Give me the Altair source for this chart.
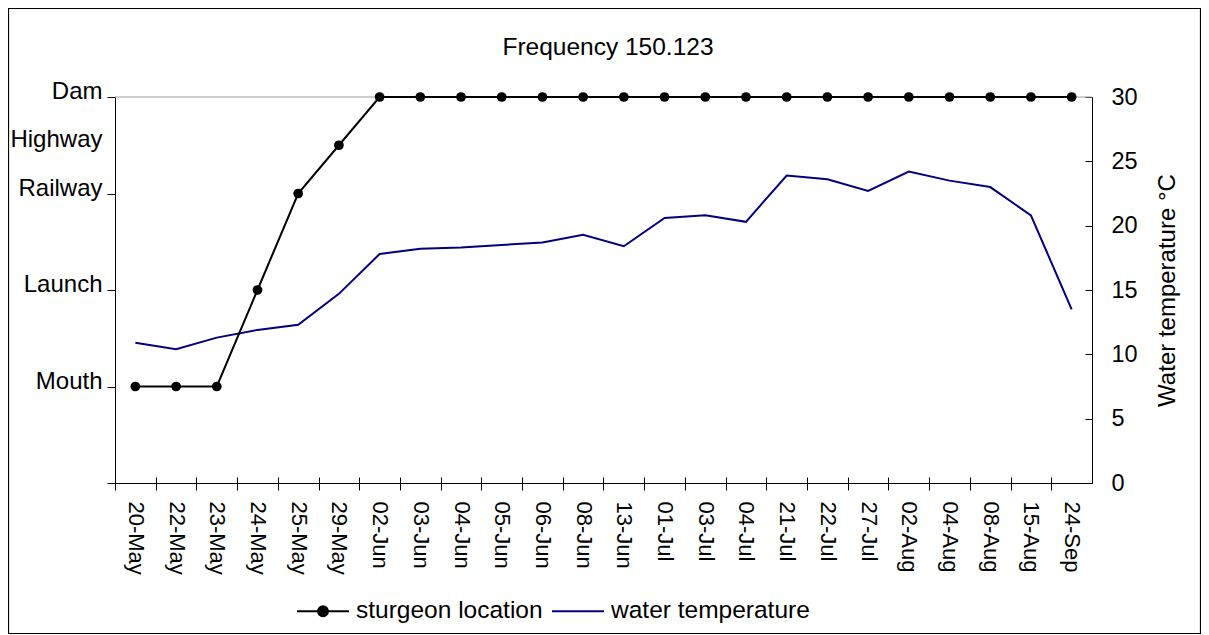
import altair as alt
import pandas as pd

# ---------------- data ----------------
dates = ["20-May", "22-May", "23-May", "24-May", "25-May", "29-May", "02-Jun",
         "03-Jun", "04-Jun", "05-Jun", "06-Jun", "08-Jun", "13-Jun", "01-Jul",
         "03-Jul", "04-Jul", "21-Jul", "22-Jul", "27-Jul", "02-Aug", "04-Aug",
         "08-Aug", "15-Aug", "24-Sep"]
sturgeon_location = ["Mouth", "Mouth", "Mouth", "Launch", "Railway", "Highway",
                     "Dam", "Dam", "Dam", "Dam", "Dam", "Dam", "Dam", "Dam",
                     "Dam", "Dam", "Dam", "Dam", "Dam", "Dam", "Dam", "Dam",
                     "Dam", "Dam"]
water_temperature = [10.9, 10.4, 11.3, 11.9, 12.3, 14.7, 17.8, 18.2, 18.3, 18.5,
                     18.7, 19.3, 18.4, 20.6, 20.8, 20.3, 23.9, 23.6, 22.7, 24.2,
                     23.5, 23.0, 20.8, 13.5]
location_names = ["Mouth", "Launch", "Railway", "Highway", "Dam"]
location_levels = [7.5, 15, 22.5, 26.25, 30]
temp_ticks = [0, 5, 10, 15, 20, 25, 30]
series_names = ["sturgeon location", "water temperature"]
series_colors = ["#000000", "#000080"]
title_text = "Frequency 150.123"
temp_title = "Water temperature °C"

# ---------------- layout / style ----------------
W, H = 977, 386
PAD = {"left": 107, "top": 89, "right": 109, "bottom": 151}
FONT = "Liberation Sans"
step = W / len(dates)

level_of = dict(zip(location_names, location_levels))
df_s = pd.DataFrame({"date": dates,
                     "value": [level_of[n] for n in sturgeon_location],
                     "location": sturgeon_location})
df_t = pd.DataFrame({"date": dates, "value": water_temperature})
df_leg = pd.DataFrame({"date": dates[:2], "value": [0.0, 0.0], "series": series_names})
df_one = pd.DataFrame({"k": [0]})

yscale = alt.Scale(domain=[0, 30], nice=False, zero=True)
xscale = alt.Scale(type="point", padding=0.5, domain=dates)

x_bottom = alt.X(
    "date:N", sort=dates, scale=xscale,
    axis=alt.Axis(
        orient="bottom", title=None, labelAngle=90, labelFontSize=22, labelFont=FONT,
        labelColor="black", tickColor="black", domainColor="black",
        tickSize=7, labelPadding=11, tickOffset=-step / 2, labelOffset=step / 2,
    ),
)
# inner half of the crossing x ticks
x_inner = alt.X(
    "date:N", sort=dates, scale=xscale,
    axis=alt.Axis(
        orient="top", offset=-H, title=None, labels=False, domain=False,
        tickColor="black", tickSize=6, tickOffset=-step / 2,
    ),
)
x_none = alt.X("date:N", sort=dates, scale=xscale, axis=None)

label_expr = " : ".join(
    f"datum.value == {v} ? '{n}'" for v, n in zip(location_levels, location_names)
) + " : ''"

left_axis = alt.Axis(
    orient="left", values=[0] + location_levels, labelExpr=label_expr, title=None,
    labelFontSize=24, labelFont=FONT, labelColor="black", tickColor="black",
    domainColor="black", tickSize=8, labelPadding=5, labelOffset=-5.5,
    tickOpacity={"condition": {"test": "datum.value == 26.25", "value": 0}, "value": 1},
)

right_axis = alt.Axis(
    orient="right", values=temp_ticks, title=temp_title, titleFontSize=24,
    titleFont=FONT, titleFontWeight="normal", titleColor="black", titleAngle=270,
    titleX=75, titleY=H / 2, titleAlign="center", titleBaseline="middle",
    labelFontSize=23.5, labelFont=FONT, labelColor="black",
    domainColor="black", ticks=False, labelPadding=19,
)
# inward ticks of the temperature axis
right_inner = alt.Axis(
    orient="left", offset=-W, values=temp_ticks, title=None, labels=False,
    domain=False, tickColor="black", tickSize=7,
)

frame = alt.Chart(df_one).mark_rect(fill=None, stroke="black", strokeWidth=1.2).encode(
    x=alt.value(-PAD["left"] + 0.5), x2=alt.value(W + PAD["right"] - 0.5),
    y=alt.value(-PAD["top"] + 0.5), y2=alt.value(H + PAD["bottom"] - 0.5),
)

title_mark = alt.Chart(df_one).mark_text(
    text=title_text, font=FONT, fontSize=24.5, color="black",
    align="center", baseline="alphabetic",
).encode(x=alt.value(493), y=alt.value(-42))

top_rule = alt.Chart(df_one).mark_rule(color="#a0a0a0", strokeWidth=1.2).encode(
    y=alt.YDatum(30, scale=yscale, axis=right_inner)
)

temp_line = alt.Chart(df_t).mark_line(color=series_colors[1], strokeWidth=2).encode(
    x=x_none, y=alt.Y("value:Q", scale=yscale, axis=right_axis)
)

sturgeon_line = alt.Chart(df_s).mark_line(color=series_colors[0], strokeWidth=2).encode(
    x=x_bottom, y=alt.Y("value:Q", scale=yscale, axis=left_axis)
)

sturgeon_pts = alt.Chart(df_s).mark_point(filled=True, size=95, color="black", opacity=1).encode(
    x=x_none, y=alt.Y("value:Q", scale=yscale, axis=None)
)

dot_path = "M-1,0H1M0.19,0A0.19,0.19,0,1,1,-0.19,0A0.19,0.19,0,1,1,0.19,0Z"
line_path = "M-1,0H1"
leg = alt.Legend(
    title=None, orient="none", legendX=181, legendY=487, direction="horizontal",
    labelFont=FONT, labelFontSize=24.5, labelColor="black", symbolSize=2704,
    symbolStrokeWidth=2, labelOffset=6, columnPadding=5, padding=0,
    symbolOpacity=1, labelLimit=500,
)
legend_layer = alt.Chart(df_leg).transform_filter("false").mark_point(
    filled=True, fill="black"
).encode(
    x=x_inner, y=alt.Y("value:Q", scale=yscale, axis=None),
    stroke=alt.Stroke("series:N", scale=alt.Scale(domain=series_names, range=series_colors), legend=leg),
    shape=alt.Shape("series:N", scale=alt.Scale(domain=series_names, range=[dot_path, line_path]), legend=leg),
)

chart = alt.layer(
    frame, title_mark, top_rule, temp_line, sturgeon_line, sturgeon_pts, legend_layer
).resolve_axis(y="independent", x="independent").properties(
    width=W, height=H,
    padding=PAD,
    autosize=alt.AutoSizeParams(type="none"),
    background="white",
).configure_view(stroke=None).configure_axis(grid=False)

chart.save("out.html", embed_options={"renderer": "svg", "actions": False})
